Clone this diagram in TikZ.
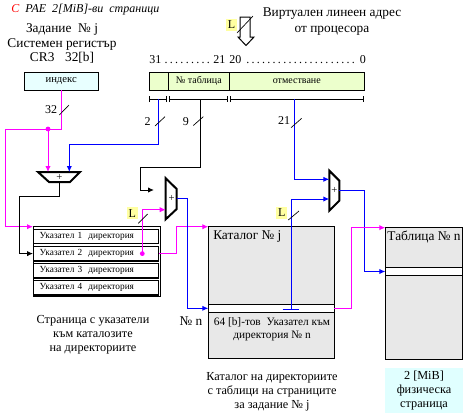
\documentclass[tikz,border=0pt]{standalone}
\usepackage{fontspec}
\setmainfont{Liberation Serif}
\usepackage{xcolor}
\usepackage{tikz}
\usetikzlibrary{positioning,shapes,arrows.meta}
\definecolor{mag}{RGB}{255,0,255}
\definecolor{blu}{RGB}{0,0,255}
\definecolor{idxcyan}{RGB}{232,255,255}
\definecolor{physcyan}{RGB}{224,255,255}
\definecolor{fieldgreen}{RGB}{236,255,204}
\definecolor{lyellow}{RGB}{255,255,160}
\definecolor{catgray}{RGB}{232,232,232}
\tikzset{
	txt/.style={font=\fontsize{10}{10.5}\selectfont, align=center, inner sep=0pt},
	captxt/.style={font=\fontsize{9.2}{10.5}\selectfont, align=center, inner sep=0pt},
	boxed/.style={draw, line width=0.75pt, inner sep=0pt, outer sep=0pt},
	field/.style={boxed, fill=fieldgreen, minimum height=13.3pt, font=\fontsize{7.5}{9}\selectfont},
	ptrrow/.style={draw, line width=1pt, fill=white, minimum height=10.9pt, inner xsep=4.5pt, inner ysep=0pt, text width=84.75pt, align=left, font=\fontsize{7}{8}\selectfont},
	lbl/.style={fill=lyellow, inner sep=0pt, minimum width=8pt, minimum height=9pt, font=\fontsize{9}{10}\selectfont},
	buswidth/.style={inner sep=0pt, font=\fontsize{9}{10}\selectfont},
	wire/.style={line width=0.75pt, ->},
	adder/.style={line width=1.5pt, line join=miter},
	slash/.style={line width=0.5pt},
	bitbar/.style={line width=0.75pt, {Bar[width=4.5pt]}-{Bar[width=4.5pt]}}
}
\begin{document}
\begin{tikzpicture}[x=0.75pt, y=-0.75pt, >={Latex[length=4.5pt,width=4pt]}]
	\useasboundingbox (0,0) rectangle (472,418);
	% headings
	\node[anchor=west, inner sep=0pt, font=\fontsize{9}{10}\selectfont\itshape] (title) at (11,10) {\textcolor{red}{С}\ \ РАЕ\ \ 2[MiB]-ви\ \ страници};
	\node[txt, font=\fontsize{10}{10.9}\selectfont] (task) at (62,43.5) {Задание \ № j\\Системен регистър\\CR3\hspace{8pt}32[b]};
	\node[txt, font=\fontsize{10}{12}\selectfont] (virt) at (332,21.5) {Виртуален линеен адрес\\от процесора};

	% linear address from the processor
	\draw[line width=0.75pt, fill=white] (240,17) -- (250,17) -- (250,37) -- (254,37) -- (246,45.5) -- (238,37) -- (240,37) -- cycle;
	\node[lbl] (l1) at (231.5,24.5) {L};
	\draw[slash] (237,33) -- (253,16);

	\node[anchor=west, inner sep=0pt, font=\fontsize{9}{10}\selectfont] (hibits) at (149,60) {\makebox[57pt]{31\,\dotfill\,21}};
	\node[anchor=west, inner sep=0pt, font=\fontsize{9}{10}\selectfont] (lobits) at (229,60) {\makebox[102.5pt]{20\,\dotfill\,0}};

	\node[field, minimum width=14.25pt] (fdir) at (158.8,81.2) {};
	\node[field, minimum width=45.75pt, right=0pt of fdir] (ftab) {№ таблица};
	\node[field, minimum width=101.25pt, right=0pt of ftab] (foff) {отместване};

	\draw[bitbar] (149.3,99) -- (166.5,99);
	\draw[bitbar] (168.5,99) -- (228.2,99);
	\draw[bitbar] (230.3,99) -- (364.3,99);
	\coordinate (bdir) at (158.3,99);
	\coordinate (btab) at (200.3,99);
	\coordinate (boff) at (294.3,99);

	% CR3 index
	\node[boxed, fill=idxcyan, minimum width=55.7pt, minimum height=13.3pt, font=\fontsize{8}{9}\selectfont] (idx) at (61.2,81.2) {индекс};

	% page with directory pointers
	\node[boxed, minimum width=95.25pt, minimum height=52pt] (ptab) at (96.5,261.35) {};
	\foreach \i in {1,...,4}
		\node[ptrrow] (row\i) at (96.2,{236.5+17.1*(\i-1)}) {Указател \i\ \ директория};
	\node[captxt] (ptrcap) at (93,335) {Страница с указатели\\към каталозите\\на директориите};

	% directory catalog
	\node[boxed, fill=catgray, minimum width=94.5pt, minimum height=99.2pt] (cat) at (271.3,292.85) {};
	\node[anchor=base west, inner sep=0pt, font=\fontsize{10}{10.5}\selectfont] (catname) at (213,239.5) {Каталог № j};
	\node[boxed, line width=1pt, fill=white, minimum width=94.5pt, minimum height=6pt] (catrow) at (271.3,308.3) {};
	\node[txt, font=\fontsize{8.5}{9.75}\selectfont] (catptr) at (272,329.5) {64 [b]-тов \ Указател към\\директория № n};
	\node[captxt] (catcap) at (272,392) {Каталог на директориите\\с таблици на страниците\\за задание № j};

	% page table
	\node[boxed, fill=catgray, minimum width=58pt, minimum height=98.5pt] (tab) at (424,293.35) {};
	\node[anchor=base, inner sep=0pt, font=\fontsize{10}{10.5}\selectfont] (tabname) at (424,240) {Таблица № n};
	\node[boxed, line width=1pt, fill=white, minimum width=58pt, minimum height=6.3pt] (tabrow) at (424,271.5) {};
	\node[captxt, fill=physcyan, minimum width=58pt, minimum height=34.2pt] (phys) at (424,390.5) {2 [MiB]\\физическа\\страница};

	% adders
	\draw[adder] (38,172) -- (80,172) -- (70,182) -- (49,182) -- cycle;
	\node[inner sep=0pt, font=\fontsize{8}{8}\selectfont] (add1) at (59.5,177.3) {+};
	\coordinate (a1in1) at (48,172);
	\coordinate (a1in2) at (69.3,172);
	\coordinate (a1out) at (59.5,182);

	\draw[adder] (165.7,178.3) -- (176.7,189) -- (176.7,209) -- (165.7,219.3) -- cycle;
	\node[inner sep=0pt, font=\fontsize{8}{8}\selectfont] (add2) at (171.7,198.8) {+};
	\coordinate (a2in1) at (154,190);
	\coordinate (a2in2) at (165.7,209.7);
	\coordinate (a2out) at (176.7,198.5);

	\draw[adder] (329.3,170.7) -- (339.3,180.7) -- (339.3,200.7) -- (329.3,210.7) -- cycle;
	\node[inner sep=0pt, font=\fontsize{8}{8}\selectfont] (add3) at (334.5,190.7) {+};
	\coordinate (a3in1) at (329.3,179.3);
	\coordinate (a3in2) at (329.3,199);
	\coordinate (a3out) at (339.3,190.7);

	% connections
	\draw[wire, mag] (idx.south) |- (5.7,129) |- (ptab.north west);
	\fill[mag] (48,129) circle (1.8pt);
	\draw[wire, mag] (48,129) -- (a1in1);
	\node[buswidth] (w32) at (51.2,110) {32};
	\draw[slash] (59.3,115) -- (69,105);

	\draw[wire, blu] (bdir) -- ++(0,45) -| (a1in2);
	\node[buswidth] (w2) at (147.5,122) {2};
	\draw[slash] (155,126) -- (165,116.7);

	\draw[wire] (a1out) -- ++(0,14.7) -| (19.3,253.6) -- (row2.west);

	\draw[wire] (btab) -- ++(0,68.3) -| (140.3,190) -- (a2in1);
	\node[buswidth] (w9) at (185.8,122) {9};
	\draw[slash] (193.3,125.5) -- (203.3,116.7);

	\fill[mag] (142.3,253.6) circle (1.8pt);
	\draw[wire, mag] (142.3,253.6) |- (a2in2);
	\node[lbl] (l2) at (132.3,213.3) {L};
	\draw[slash] (138.3,223.3) -- (147.7,214);

	\draw[wire, mag] (row2.east) -- (176,253.6) |- (cat.north west);

	\draw[wire, blu] (a2out) -- ++(10.6,0) |- (catrow.west);
	\node[buswidth, font=\fontsize{10}{10}\selectfont] (numn) at (191,321) {№ n};

	\draw[wire, blu] (boff) |- (a3in1);
	\node[buswidth] (w21) at (284,121) {21};
	\draw[slash] (291,127.7) -- (301.7,118.3);

	\coordinate (ptrfld) at (291.7,309.3);
	\draw[blu, line width=0.75pt] (ptrfld) ++(-9,0) -- ++(16,0);
	\draw[wire, blu] (ptrfld) |- (a3in2);
	\node[lbl] (l3) at (281.7,212.8) {L};
	\draw[slash] (288.3,220) -- (299,211);

	\draw[wire, blu] (a3out) -- ++(25,0) |- (tabrow.west);
	\draw[wire, mag] (catrow.east) -- ++(17.4,0) |- (tab.north west);
\end{tikzpicture}
\end{document}
